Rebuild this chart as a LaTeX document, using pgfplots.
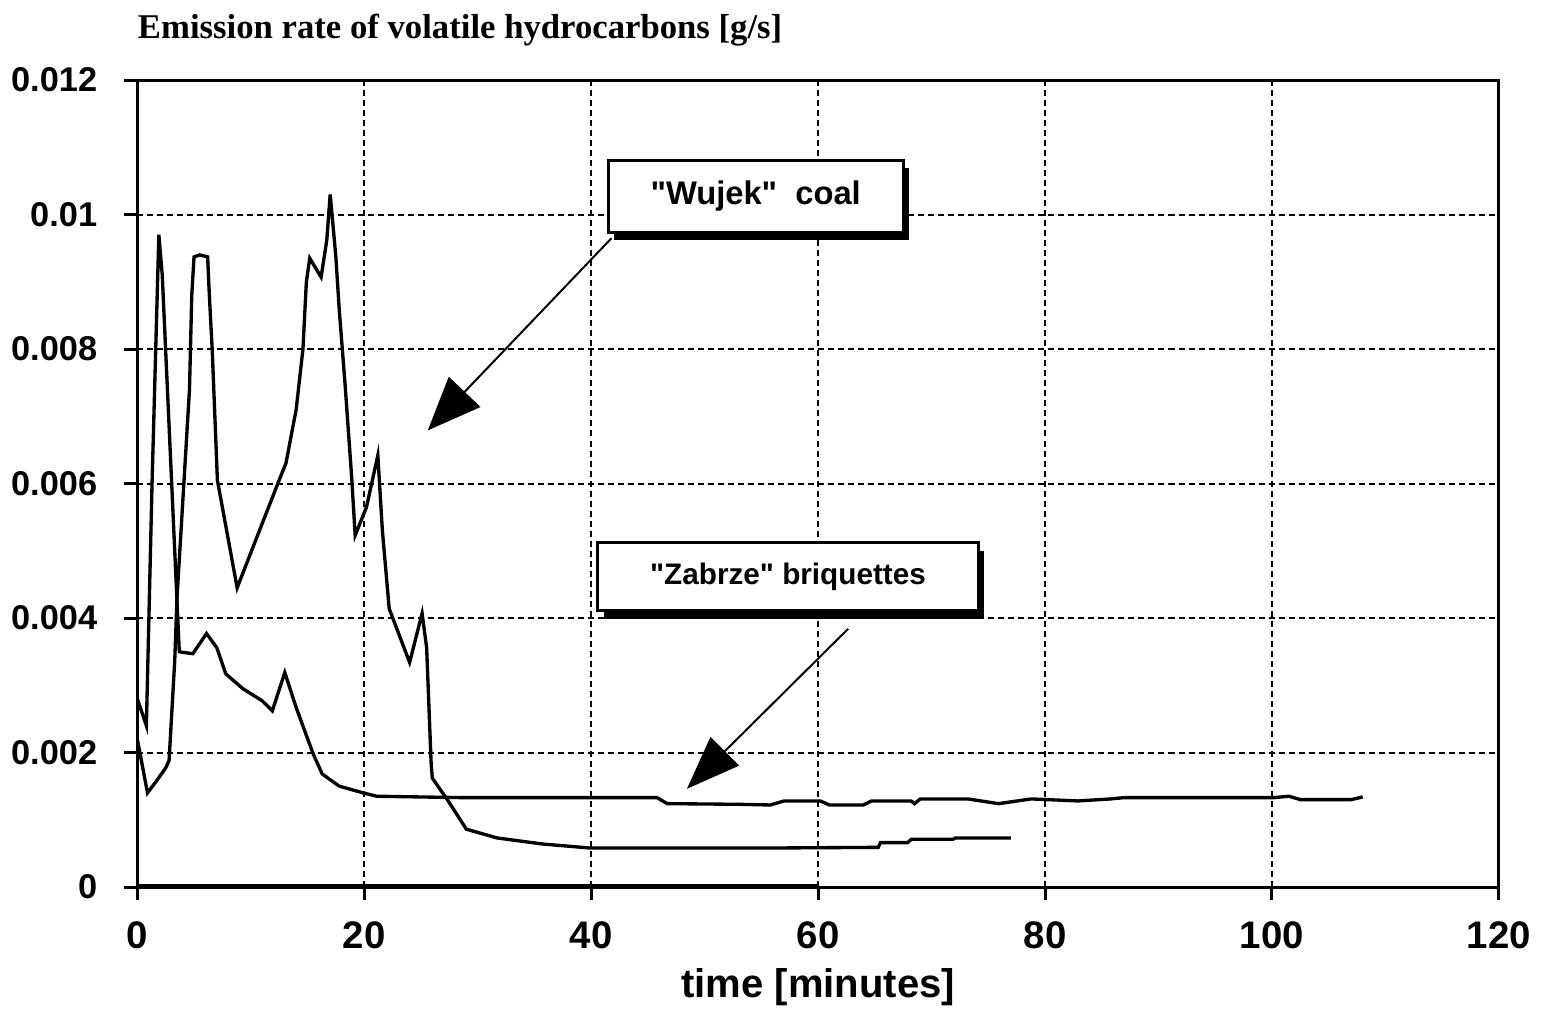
\documentclass[border=0pt]{standalone}
\usepackage{fontspec}
\setmainfont{Liberation Sans}
\newfontfamily\titlefont{Liberation Serif}
\newfontfamily\boxfont{Liberation Sans}
\usepackage{pgfplots}
\pgfplotsset{compat=1.18}
\usetikzlibrary{arrows.meta,shadows}

\begin{document}
\begin{tikzpicture}
  \begin{axis}[
    scale only axis,
    width=408pt, height=241.8pt,
    clip mode=individual,
    xmin=0, xmax=120, ymin=0, ymax=0.012,
    xtick={0,20,40,60,80,100,120},
    ytick={0,0.002,0.004,0.006,0.008,0.01,0.012},
    scaled y ticks=false,
    /pgf/number format/assume math mode=true,
    yticklabel style={/pgf/number format/fixed, /pgf/number format/precision=3,
      font=\fontsize{10.3}{12}\selectfont\bfseries, xshift=-4.5pt},
    xticklabel style={font=\fontsize{11.5}{13}\selectfont\bfseries, yshift=-3pt},
    xtick pos=bottom, ytick pos=left,
    tick align=outside,
    major tick length=4pt,
    tick style={black, line width=0.9pt},
    axis line style={black, line width=0.9pt},
    grid=major,
    major grid style={black, line width=0.6pt, dash pattern=on 1.8pt off 1.2pt},
    xlabel={time [minutes]},
    xlabel style={font=\fontsize{12}{13}\selectfont\bfseries, yshift=1pt},
  ]
    % series starting with the 0.0097 peak, flat tail to 108 min
    \addplot[black, line width=1pt] coordinates {
      (0,0.0028) (0.8,0.0024) (1.3,0.0060) (1.9,0.0097) (2.2,0.0091)
      (3.7,0.0035) (4.0,0.00349) (4.9,0.00347) (6.1,0.00377) (7.0,0.00356)
      (7.8,0.00317) (9.3,0.00295) (11.0,0.00277) (11.9,0.00262) (13.0,0.00319)
      (14.0,0.00267) (15.5,0.00198) (16.3,0.00168) (17.8,0.0015) (19.9,0.0014)
      (21.1,0.00135) (28.4,0.00133) (36,0.00133) (45.8,0.00133) (46.7,0.00124)
      (53,0.00123) (55.8,0.00122) (57,0.00128) (60.2,0.00128) (61,0.00122)
      (64,0.00122) (64.7,0.00128) (68.2,0.00128) (68.5,0.00124) (69,0.00131)
      (73.2,0.00131) (75.9,0.00124) (78.8,0.00131) (82.9,0.00128) (85.8,0.00131)
      (87,0.00133) (100.2,0.00133) (101.5,0.00135) (102.5,0.0013) (105,0.0013)
      (107,0.0013) (108,0.00134)
    };
    % series with the 0.0103 peak, tail to 77 min
    \addplot[black, line width=1pt] coordinates {
      (0,0.0022) (0.9,0.0014) (1.7,0.00158) (2.5,0.00177) (2.8,0.00188)
      (3.3,0.00337) (3.5,0.0043) (4.6,0.0074) (4.8,0.0088) (5.0,0.00937)
      (5.5,0.0094) (6.2,0.00937) (6.35,0.0088) (6.6,0.0080) (7.06,0.00605)
      (8.8,0.00445) (12.5,0.00605) (13.1,0.0063) (14.0,0.0071) (14.6,0.008)
      (14.9,0.009) (15.2,0.00935) (16.2,0.00907) (16.7,0.00962) (17.0,0.0103)
      (17.5,0.00937) (17.8,0.00858) (18.3,0.0075) (18.9,0.00608) (19.2,0.00523)
      (20.2,0.00565) (21.2,0.00642) (21.6,0.0053) (22.2,0.00414) (24.0,0.00334)
      (25.1,0.00407) (25.5,0.00356) (25.9,0.00183) (26.0,0.00162) (27.4,0.00128)
      (29.0,0.00086) (31.7,0.00073) (35.7,0.00064) (39.9,0.00058) (55.8,0.00058)
      (65.3,0.00059) (65.5,0.00066) (67.9,0.00066) (68.2,0.00071) (71.9,0.00071)
      (72.1,0.00073) (77,0.00073)
    };
    % series lying on the time axis
    \addplot[black, line width=0.8pt] coordinates {(0,0.00002) (60,0.00002)};

    \node[draw, fill=white, line width=0.9pt, minimum width=88.5pt, minimum height=21.6pt,
          drop shadow={shadow xshift=1.8pt, shadow yshift=-2.4pt, fill=black, opacity=1},
          font=\boxfont\bfseries\fontsize{9.8}{11}\selectfont]
      at (axis cs:54.5,0.010275) {"Wujek"\ \ coal};
    \node[draw, fill=white, line width=0.9pt, minimum width=114pt, minimum height=20.4pt,
          drop shadow={shadow xshift=1.8pt, shadow yshift=-2.4pt, fill=black, opacity=1},
          font=\boxfont\bfseries\fontsize{8.9}{10}\selectfont]
      at (axis cs:57.35,0.004617) {"Zabrze" briquettes\hspace{16pt}};
    \draw[line width=0.6pt, -{Triangle[length=16pt,width=13pt]}]
      (axis cs:41.8,0.00965) -- (axis cs:25.6,0.00679);
    \draw[line width=0.6pt, -{Triangle[length=16pt,width=12pt]}]
      (axis cs:62.65,0.00384) -- (axis cs:48.44,0.00146);
    \node[anchor=base west, inner sep=0pt, font=\titlefont\bfseries\fontsize{10.4}{12}\selectfont]
      at (rel axis cs:0,1) [yshift=12.5pt] {Emission rate of volatile hydrocarbons [g/s]};
    \coordinate (tl) at (rel axis cs:0,1);
  \end{axis}
  \path ([yshift=24pt]tl);
\end{tikzpicture}
\end{document}
